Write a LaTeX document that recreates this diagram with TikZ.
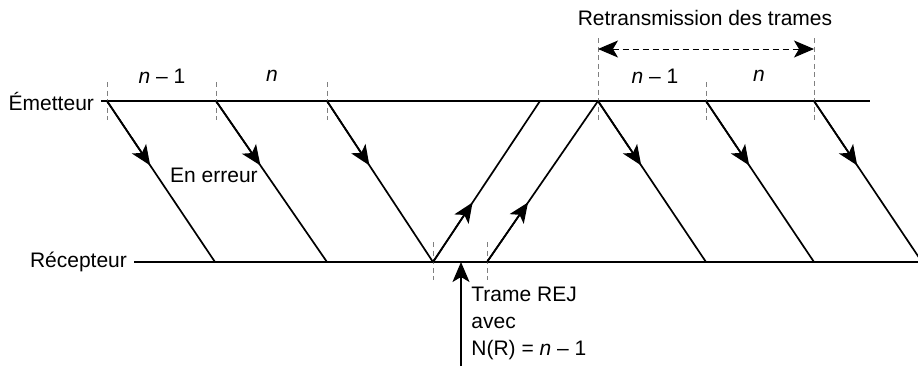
\documentclass[tikz,border=0pt]{standalone}
\usepackage{fontspec}
\setmainfont{Liberation Sans}
\usetikzlibrary{arrows.meta,calc}

\begin{document}
\begin{tikzpicture}[x=0.5pt, y=-0.5pt,
    font=\fontsize{10.5}{13.5}\selectfont,
    >={Stealth[length=10pt,width=8.5pt,inset=2.5pt]},
    frame/.style={line width=0.85pt},
    axis/.style={line width=1.1pt},
    tick/.style={gray, line width=0.5pt, dash pattern=on 2.5pt off 1.8pt}]
    \useasboundingbox (0,0) rectangle (918,366);
    \clip (0,0) rectangle (918,366);

    % Points on the emitter line
    \coordinate (e1) at (107,101);
    \coordinate (e2) at (216,101);
    \coordinate (e3) at (327,101);
    \coordinate (e4) at (540,101);
    \coordinate (e5) at (598,101);
    \coordinate (e6) at (706,101);
    \coordinate (e7) at (814,101);
    \coordinate (eend) at (870,101);

    % Points on the receiver line
    \coordinate (r1) at (215,262);
    \coordinate (r2) at (327,262);
    \coordinate (r3) at (433,262);
    \coordinate (r4) at (487,262);
    \coordinate (r5) at (706,262);
    \coordinate (r6) at (814,262);
    \coordinate (r7) at (922,262);
    \coordinate (rend) at (918,262);

    % Station labels and time lines
    \node[anchor=east] (emitter) at (101,101) {Émetteur};
    \node[anchor=east] (receiver) at (134,262) {Récepteur};
    \draw[axis] (emitter.east) -- (eend);
    \draw[axis] (receiver.east) -- (rend);

    % Frame boundaries
    \foreach \p in {e1,e2,e3,e6}
        \draw[tick] ($(\p)+(0,-19)$) -- ($(\p)+(0,19)$);
    \foreach \p in {e5,e7}
        \draw[tick] ($(\p)+(0,-63)$) -- ($(\p)+(0,19)$);
    \foreach \p in {r3,r4}
        \draw[tick] ($(\p)+(0,-20)$) -- ($(\p)+(0,18)$);

    % Frames sent, arrow part way down
    \foreach \a/\b in {e1/r1, e2/r2, e3/r3, e5/r5, e6/r6, e7/r7} {
        \draw[->, frame] (\a) -- ($(\a)!0.40!(\b)$);
        \draw[frame] (\a) -- (\b);
    }

    % Frames sent back
    \foreach \a/\b in {r3/e4, r4/e5} {
        \draw[->, frame] (\a) -- ($(\a)!0.37!(\b)$);
        \draw[frame] (\a) -- (\b);
    }

    % Frame numbers
    \node (n1) at (162,76) {\textit{n} – 1};
    \node (n2) at (272,76) {\textit{n}};
    \node (n3) at (655,76) {\textit{n} – 1};
    \node (n4) at (759,76) {\textit{n}};
    \node (err) at (214,175) {En erreur};

    % Retransmission span
    \coordinate (ra) at (598,49);
    \coordinate (rb) at (814,49);
    \draw[<->, line width=0.5pt, dash pattern=on 3pt off 2pt] (ra) -- (rb);
    \node (retx) at (705,18) {Retransmission des trames};

    % REJ frame
    \coordinate (rejfoot) at (461,366);
    \coordinate (rejtip) at (461,262);
    \draw[->, line width=0.6pt] (rejfoot) -- (rejtip);
    \node[anchor=west, align=left, inner sep=0pt] (rej) at (471,323)
        {Trame REJ\\avec\\N(R) = \textit{n} – 1};
\end{tikzpicture}
\end{document}
